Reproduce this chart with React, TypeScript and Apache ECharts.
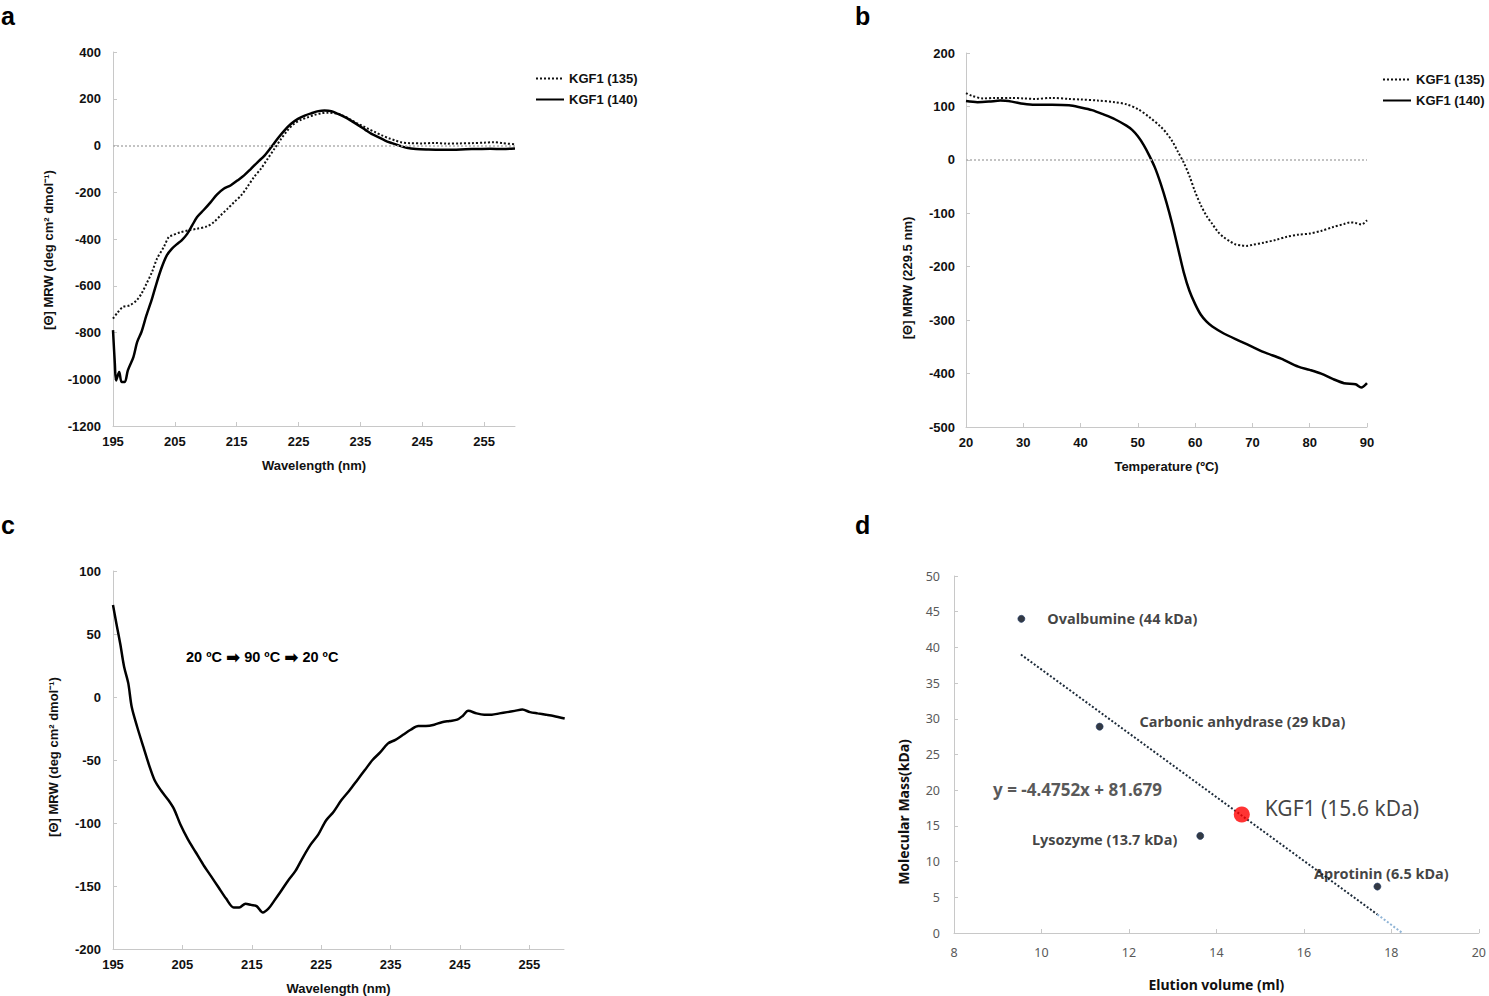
import React, { useEffect, useRef } from "react";
import * as echarts from "echarts";

// ---------- Panel a: far-UV CD spectra (wavelength nm, MRW) ----------
const a135: [number, number][] = [
  [195, -741], [195.8, -713], [196.6, -691], [197.7, -684], [198.8, -663], [199.6, -634],
  [200.4, -592], [201.3, -542], [202.1, -485], [203.2, -435], [204, -392], [204.5, -385],
  [205.9, -371], [207.2, -363], [208.6, -356], [210.2, -346], [211.3, -328], [212.4, -299],
  [213.5, -271], [214.6, -242], [215.7, -214], [216.7, -178], [217.8, -135], [218.9, -100],
  [220, -57], [221.1, -14], [222.2, 29], [223.3, 67], [224.3, 93], [225.4, 110], [226.5, 121],
  [227.6, 131], [228.7, 138], [229.8, 140], [230.9, 138], [231.9, 131], [233, 117], [234.1, 100],
  [235.2, 86], [236.3, 71], [237.4, 57], [238.5, 43], [239.6, 31], [240.7, 21], [241.7, 13],
  [243, 10], [245, 9], [247, 11], [249, 8], [251, 9], [253, 10], [255, 12], [256.5, 14],
  [258, 10], [260, 5],
];
const a140: [number, number][] = [
  [195, -790], [195.3, -934], [195.5, -1005], [196, -969], [196.4, -1012], [196.9, -1012],
  [197.4, -962], [198.3, -905], [198.9, -841], [199.6, -798], [200.4, -727], [201.3, -656],
  [202.1, -584], [202.9, -520], [203.7, -470], [204.5, -442], [205.3, -423], [206.1, -406],
  [207, -378], [207.8, -342], [208.6, -306], [209.7, -275], [210.8, -242], [211.8, -210],
  [212.9, -185], [214, -171], [215.1, -150], [216.2, -128], [217.3, -100], [218.4, -71],
  [219.5, -43], [220.5, -10], [221.6, 29], [222.7, 64], [223.8, 93], [224.9, 114], [226, 128],
  [227.1, 138], [228.2, 147], [229.2, 150], [230.3, 147], [231.4, 135], [232.5, 121],
  [233.6, 104], [234.7, 86], [235.8, 67], [236.8, 50], [237.9, 36], [239, 21], [240.1, 10],
  [241.2, 0], [242.5, -10], [244, -15], [246, -17], [248, -18], [250, -18], [252, -16],
  [254, -15], [256, -14], [258, -15], [260, -13],
];

// ---------- Panel b: thermal melt at 229.5 nm (temperature, MRW) ----------
const b135: [number, number][] = [
  [20, 125], [21, 120], [23, 115], [25, 116], [28, 116], [30, 115], [32, 114], [35, 116],
  [38, 114], [40, 113], [43, 111], [46, 108], [48, 104], [50, 95], [52, 80], [54, 62], [55, 50],
  [56, 35], [57, 15], [58, -5], [59, -30], [60, -60], [61, -85], [62, -105], [63, -120],
  [64, -135], [65, -145], [66, -152], [67, -158], [68, -160], [69, -161], [70, -159], [72, -155],
  [74, -150], [76, -144], [78, -140], [80, -138], [82, -133], [84, -126], [86, -120], [87, -117],
  [88, -118], [89, -121], [90, -113],
];
const b140: [number, number][] = [
  [20, 110], [22, 108], [24, 109], [26, 111], [28, 109], [30, 105], [32, 103], [35, 103],
  [38, 102], [40, 98], [42, 93], [44, 85], [46, 76], [48, 64], [49, 56], [50, 44], [51, 28],
  [52, 8], [53, -15], [54, -45], [55, -80], [56, -120], [57, -165], [58, -210], [59, -245],
  [60, -270], [61, -290], [62, -303], [63, -312], [65, -325], [68, -340], [70, -350], [72, -360],
  [75, -372], [78, -387], [80, -393], [82, -400], [84, -410], [86, -418], [88, -420], [89, -426],
  [90, -418],
];

// ---------- Panel c: spectrum after 20 -> 90 -> 20 °C ----------
const cRefolded: [number, number][] = [
  [195, 73], [195.5, 58], [196.05, 42], [196.6, 24], [197.2, 11], [197.7, -8], [198.5, -24],
  [199.4, -40], [200.2, -54], [201, -66], [201.9, -74], [203, -82], [203.8, -89], [204.7, -101],
  [205.8, -113], [206.9, -123], [208, -133], [209.1, -142], [210.2, -151], [211.3, -160],
  [212.4, -167], [213.2, -167], [214.1, -164], [214.9, -165], [215.7, -166], [216.6, -171],
  [217.4, -168], [218.2, -162], [219.1, -155], [220.2, -146], [221.3, -138], [222.4, -127],
  [223.5, -117], [224.6, -109], [225.7, -98], [226.8, -91], [227.9, -82], [229.1, -74],
  [230.2, -66], [231.3, -58], [232.4, -50], [233.5, -44], [234.6, -37], [235.7, -34],
  [236.8, -30], [237.9, -26], [239, -23], [240.1, -23], [241.3, -22], [242.4, -20], [243.5, -19],
  [244.6, -18], [245.4, -15], [246.2, -11], [247.4, -13], [248.5, -14], [249.6, -14],
  [250.7, -13], [251.8, -12], [252.9, -11], [254, -10], [255.1, -12], [256.2, -13], [257.4, -14],
  [258.5, -15], [260.1, -17],
];

// ---------- Panel d: gel filtration calibration ----------
const standardNames = [
  "Ovalbumine (44 kDa)",
  "Carbonic anhydrase (29 kDa)",
  "Lysozyme (13.7 kDa)",
  "Aprotinin (6.5 kDa)",
];
const standardVolumes = [9.54, 11.33, 13.63, 17.68];
const standardMasses = [44, 28.9, 13.6, 6.5];
const kgf1Name = "KGF1 (15.6 kDa)";
const kgf1Point: [number, number] = [14.58, 16.6];
const trendMain: [number, number][] = [[9.53, 39.0], [17.68, 2.6]];
const trendTail: [number, number][] = [[17.68, 2.6], [18.25, 0]];
const equationText = "y = -4.4752x + 81.679";

const FONT = "'Liberation Sans', Arial, sans-serif";
const FONT_D = "'Noto Sans', 'Open Sans', sans-serif";
const AXIS_GRAY = "#c8c8c8";

function axisBase(gridIndex: number, min: number, max: number, interval: number, name: string, nameGap: number, labelMargin: number, d = false) {
  return {
    gridIndex,
    type: "value",
    min,
    max,
    interval,
    name,
    nameLocation: "middle",
    nameGap,
    nameTextStyle: { fontFamily: d ? FONT_D : FONT, fontWeight: "bold", fontSize: d ? 14 : 13, color: "#111" },
    axisLine: { show: true, onZero: false, lineStyle: { color: AXIS_GRAY, width: 1 } },
    axisTick: { show: true, inside: true, length: 4, lineStyle: { color: AXIS_GRAY } },
    axisLabel: {
      margin: labelMargin,
      showMaxLabel: true,
      formatter: (v: number) => String(v),
      fontFamily: d ? FONT_D : FONT,
      fontWeight: d ? "normal" : "bold",
      fontSize: d ? 12.5 : 13,
      color: d ? "#595959" : "#111",
    },
    splitLine: { show: false },
  };
}

function yTitle(text: string, x: number, y: number, d = false) {
  return {
    type: "text",
    x,
    y,
    rotation: Math.PI / 2,
    style: {
      text,
      font: `bold ${d ? 14 : 13}px ${d ? FONT_D : FONT}`,
      fill: "#111",
      align: "center",
      verticalAlign: "middle",
    },
  };
}

export default function App() {
  const ref = useRef<HTMLDivElement>(null);
  useEffect(() => {
    document.body.style.margin = "0";
    if (!ref.current) return;
    const chart = echarts.init(ref.current, null, { renderer: "svg" });

    const xa = axisBase(0, 195, 260, 10, "Wavelength (nm)", 33, 9);
    (xa.axisLabel as any).showMaxLabel = false;
    const xb = axisBase(1, 20, 90, 10, "Temperature (ºC)", 33, 9);
    const xc = axisBase(2, 195, 260, 10, "Wavelength (nm)", 33, 9);
    (xc.axisLabel as any).showMaxLabel = false;
    const xd = axisBase(3, 8, 20, 2, "Elution volume (ml)", 44, 13, true);

    const ya = { ...axisBase(0, -1200, 400, 200, "", 0, 12), name: "" };
    const yb = { ...axisBase(1, -500, 200, 100, "", 0, 11), name: "" };
    const yc = { ...axisBase(2, -200, 100, 50, "", 0, 12), name: "" };
    const yd = { ...axisBase(3, 0, 50, 5, "", 0, 14, true), name: "" };

    const zeroLine = {
      silent: true,
      symbol: "none",
      label: { show: false },
      lineStyle: { color: "#b0b0b0", type: [2, 2], width: 1.5 },
      data: [{ yAxis: 0 }],
    };
    const dottedStyle = { color: "#111", width: 2, type: [2, 2] };
    const solidStyle = { color: "#000", width: 2.5, type: "solid" };

    const legendCommon = {
      orient: "vertical",
      padding: 0,
      itemWidth: 28,
      itemHeight: 14,
      itemGap: 8,
      itemStyle: { opacity: 0 },
      textStyle: { fontFamily: FONT, fontWeight: "bold", fontSize: 13, color: "#111" },
      selectedMode: false,
      data: ["KGF1 (135)", "KGF1 (140)"],
    };

    const labelStyle = { fontFamily: FONT_D, fontWeight: "bold", fontSize: 14.5, color: "#111" };
    const labelPos = [
      { position: "right", distance: 22, offset: [0, -1] },
      { position: "right", distance: 36, offset: [0, -6] },
      { position: "left", distance: 19, offset: [0, 3] },
      { position: "top", distance: 2, offset: [4, 0] },
    ];

    const option: any = {
      animation: false,
      backgroundColor: "#ffffff",
      grid: [
        { left: 113, top: 52, width: 402, height: 374, containLabel: false },
        { left: 966, top: 53, width: 401, height: 374, containLabel: false },
        { left: 113, top: 571, width: 451, height: 378, containLabel: false },
        { left: 954, top: 576, width: 527, height: 357, containLabel: false },
      ],
      xAxis: [xa, xb, xc, xd],
      yAxis: [ya, yb, yc, yd],
      legend: [
        { ...legendCommon, left: 535, top: 72 },
        { ...legendCommon, left: 1382, top: 73 },
      ],
      series: [
        { name: "KGF1 (135)", type: "line", xAxisIndex: 0, yAxisIndex: 0, data: a135, symbol: "none", smooth: 0.3, lineStyle: dottedStyle, itemStyle: { color: "#111" }, markLine: zeroLine, z: 3 },
        { name: "KGF1 (140)", type: "line", xAxisIndex: 0, yAxisIndex: 0, data: a140, symbol: "none", smooth: 0.3, lineStyle: solidStyle, itemStyle: { color: "#000" }, z: 4 },
        { name: "KGF1 (135)", type: "line", xAxisIndex: 1, yAxisIndex: 1, data: b135, symbol: "none", smooth: 0.3, lineStyle: dottedStyle, itemStyle: { color: "#111" }, markLine: zeroLine, z: 3 },
        { name: "KGF1 (140)", type: "line", xAxisIndex: 1, yAxisIndex: 1, data: b140, symbol: "none", smooth: 0.3, lineStyle: solidStyle, itemStyle: { color: "#000" }, z: 4 },
        { name: "20 ºC → 90 ºC → 20 ºC", type: "line", xAxisIndex: 2, yAxisIndex: 2, data: cRefolded, symbol: "none", smooth: 0.3, lineStyle: solidStyle, itemStyle: { color: "#000" } },
        { name: "trend", type: "line", xAxisIndex: 3, yAxisIndex: 3, data: trendMain, symbol: "none", lineStyle: { color: "#1d2b3a", width: 2, type: [2, 2] }, z: 2 },
        { name: "trendTail", type: "line", xAxisIndex: 3, yAxisIndex: 3, data: trendTail, symbol: "none", lineStyle: { color: "#8fb4d6", width: 2, type: [2, 2] }, z: 2 },
        {
          name: "standards",
          type: "scatter",
          xAxisIndex: 3,
          yAxisIndex: 3,
          symbolSize: 7,
          itemStyle: { color: "#000814", borderColor: "#1f3b66", borderWidth: 0.8 },
          data: standardNames.map((n, i) => ({
            name: n,
            value: [standardVolumes[i], standardMasses[i]],
            label: { show: true, formatter: n, ...labelStyle, ...labelPos[i] },
          })),
          z: 5,
        },
        {
          name: "KGF1",
          type: "scatter",
          xAxisIndex: 3,
          yAxisIndex: 3,
          symbolSize: 16,
          itemStyle: { color: "#ff0000" },
          data: [{
            name: kgf1Name,
            value: kgf1Point,
            label: { show: true, formatter: kgf1Name, position: "right", distance: 15, offset: [0, -6], fontFamily: FONT_D, fontSize: 21, color: "#111" },
          }],
          z: 6,
        },
      ],
      graphic: [
        { type: "text", left: 1, top: 3, style: { text: "a", font: `bold 25px ${FONT}`, fill: "#000" } },
        { type: "text", left: 855, top: 3, style: { text: "b", font: `bold 25px ${FONT}`, fill: "#000" } },
        { type: "text", left: 1, top: 512, style: { text: "c", font: `bold 25px ${FONT}`, fill: "#000" } },
        { type: "text", left: 855, top: 512, style: { text: "d", font: `bold 25px ${FONT}`, fill: "#000" } },
        yTitle("[Θ] MRW (deg cm² dmol⁻¹)", 48, 250),
        yTitle("[Θ] MRW (229.5 nm)", 907, 278),
        yTitle("[Θ] MRW (deg cm² dmol⁻¹)", 53, 757),
        yTitle("Molecular Mass(kDa)", 903, 812, true),
        {
          type: "text",
          left: 186,
          top: 648,
          style: {
            text: "{t|20 ºC }{ar|➡}{t| 90 ºC }{ar|➡}{t| 20 ºC}",
            rich: {
              t: { font: `bold 14.5px ${FONT}`, fill: "#000", verticalAlign: "middle" },
              ar: { font: `bold 17px 'DejaVu Sans', sans-serif`, fill: "#000", verticalAlign: "middle" },
            },
          },
        },
        { type: "text", left: 993, top: 781, style: { text: equationText, font: `bold 17px ${FONT_D}`, fill: "#595959" } },
      ],
    };
    chart.setOption(option);
    return () => chart.dispose();
  }, []);
  return <div ref={ref} style={{ width: 1489, height: 996 }} />;
}
